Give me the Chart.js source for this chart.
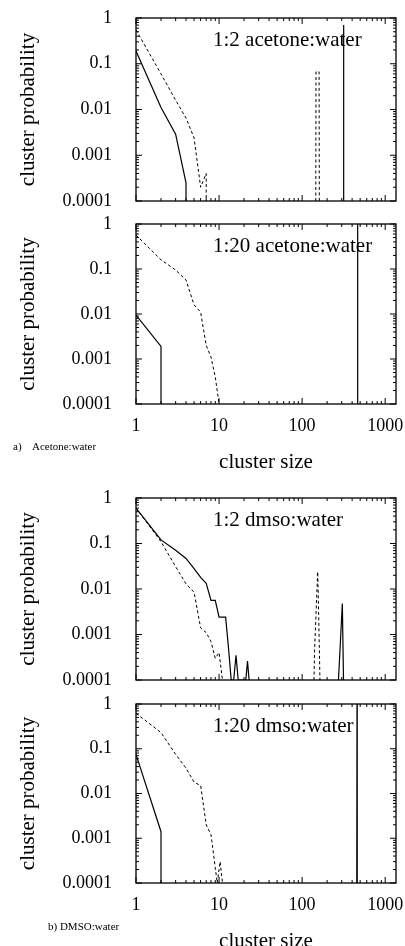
<!DOCTYPE html>
<html>
<head>
<meta charset="utf-8">
<script src="https://cdn.jsdelivr.net/npm/chart.js@4.4.0/dist/chart.umd.min.js"></script>
<style>
  body { margin: 0; background: #fff; width: 405px; height: 946px; overflow: hidden; position: relative; font-family: "Liberation Serif", serif; }
  .pane { position: absolute; left: 0; width: 405px; }
  .tag { position: absolute; font-size: 11px; white-space: pre; color: #000; line-height: 1; }
</style>
</head>
<body>
<div class="pane" style="top:0;height:215px"><canvas id="c1"></canvas></div>
<div class="pane" style="top:204px;height:271px"><canvas id="c2"></canvas></div>
<div class="pane" style="top:480px;height:214px"><canvas id="c3"></canvas></div>
<div class="pane" style="top:684px;height:270px"><canvas id="c4"></canvas></div>
<div class="tag" style="left:13px;top:441px">a)    Acetone:water</div>
<div class="tag" style="left:48px;top:921px">b) DMSO:water</div>

<script>
// tick labels
const xTickValues = [1, 10, 100, 1000];
const xTickLabels = ['1', '10', '100', '1000'];
const yTickValues = [0.0001, 0.001, 0.01, 0.1, 1];
const yTickLabels = ['0.0001', '0.001', '0.01', '0.1', '1'];

// 1:2 acetone:water
const ac2SolidSize = [1, 2, 3, 4, 4];
const ac2SolidProb = [0.19, 0.011, 0.0029, 0.00025, 0.0001];
const ac2SolidPeakSize = [312, 315, 318];
const ac2SolidPeakProb = [0.0001, 0.7, 0.0001];
const ac2DashSize = [1, 2, 3, 4, 5, 6, 7, 7];
const ac2DashProb = [0.55, 0.06, 0.016, 0.0065, 0.0024, 0.0002, 0.0004, 0.0001];
const ac2DashPeakSize = [146, 147, 160, 161];
const ac2DashPeakProb = [0.0001, 0.067, 0.067, 0.0001];

// 1:20 acetone:water
const ac20SolidSize = [1, 2, 2];
const ac20SolidProb = [0.0095, 0.0019, 0.0001];
const ac20SolidPeakSize = [462, 465, 468];
const ac20SolidPeakProb = [0.0001, 1, 0.0001];
const ac20DashSize = [1, 2, 3, 4, 5, 6, 7, 8, 9, 10];
const ac20DashProb = [0.57, 0.16, 0.095, 0.057, 0.016, 0.011, 0.002, 0.0011, 0.0004, 0.0001];

// 1:2 dmso:water
const dm2SolidSize = [1, 2, 3, 4, 5, 6, 7, 8, 9, 10, 12, 13, 14, 15, 16, 17, 21, 22, 23];
const dm2SolidProb = [0.6, 0.12, 0.071, 0.047, 0.028, 0.018, 0.0133, 0.0056, 0.0056, 0.0024, 0.0024, 0.0005, 0.0001, 0.0001, 0.00035, 0.0001, 0.0001, 0.00026, 0.0001];
const dm2SolidPeakSize = [274, 305, 315];
const dm2SolidPeakProb = [0.0001, 0.0048, 0.0001];
const dm2DashSize = [1, 2, 3, 4, 5, 6, 7, 8, 9, 10, 11];
const dm2DashProb = [0.6, 0.11, 0.031, 0.013, 0.0085, 0.0014, 0.0011, 0.0007, 0.0003, 0.0004, 0.0001];
const dm2DashPeakSize = [139, 141, 154, 158, 164];
const dm2DashPeakProb = [0.0001, 0.0004, 0.024, 0.003, 0.0001];

// 1:20 dmso:water
const dm20SolidSize = [1, 2, 2];
const dm20SolidProb = [0.075, 0.0014, 0.0001];
const dm20SolidPeakSize = [455, 458, 461];
const dm20SolidPeakProb = [0.0001, 1, 0.0001];
const dm20DashSize = [1, 2, 3, 4, 5, 6, 7, 8, 9, 9.5, 10.3, 11];
const dm20DashProb = [0.62, 0.23, 0.075, 0.037, 0.018, 0.015, 0.002, 0.0012, 0.00022, 0.0001, 0.0003, 0.0001];

const FONT = '"Liberation Serif", "Times New Roman", serif';

function series(xs, ys, dashed) {
  return {
    data: xs.map((x, i) => ({ x, y: ys[i] })),
    borderColor: '#000',
    borderWidth: dashed ? 1 : 1.2,
    borderDash: dashed ? [3, 2.5] : [],
    pointRadius: 0,
    tension: 0,
    fill: false
  };
}

// box, inward ticks on all four sides and the panel caption
const frame = {
  id: 'frame',
  beforeDatasetsDraw(chart, args, opts) {
    const { ctx, chartArea: a } = chart;
    ctx.save();
    ctx.font = '21px ' + FONT;
    ctx.fillStyle = '#000';
    ctx.textBaseline = 'alphabetic';
    ctx.fillText(opts.label, a.left + 77, a.top + 28);
    ctx.restore();
  },
  afterDraw(chart) {
    const { ctx, chartArea: a, scales: { x, y } } = chart;
    ctx.save();
    ctx.strokeStyle = '#000';
    ctx.lineWidth = 1;
    ctx.beginPath();
    for (let d = 1; d <= 1000; d *= 10) {
      for (let k = 1; k < 10; k++) {
        const v = d * k;
        if (v > x.max) break;
        const px = x.getPixelForValue(v);
        const len = k === 1 ? 6 : 3;
        ctx.moveTo(px, a.bottom); ctx.lineTo(px, a.bottom - len);
        ctx.moveTo(px, a.top); ctx.lineTo(px, a.top + len);
      }
    }
    for (let d = 0.0001; d <= 1; d *= 10) {
      for (let k = 1; k < 10; k++) {
        const v = d * k;
        if (v > y.max * 1.0001) break;
        const py = y.getPixelForValue(v);
        const len = k === 1 ? 6 : 3;
        ctx.moveTo(a.left, py); ctx.lineTo(a.left + len, py);
        ctx.moveTo(a.right, py); ctx.lineTo(a.right - len, py);
      }
    }
    ctx.stroke();
    ctx.lineWidth = 1.3;
    ctx.strokeRect(a.left, a.top, a.right - a.left, a.bottom - a.top);
    ctx.restore();
  }
};

function makePanel(id, label, datasets, showX, padTop) {
  return new Chart(document.getElementById(id), {
    type: 'line',
    data: { datasets },
    plugins: [frame],
    options: {
      responsive: true,
      maintainAspectRatio: false,
      animation: false,
      layout: { padding: { top: padTop, right: 9, left: 0, bottom: showX ? 0 : 14 } },
      plugins: {
        legend: { display: false },
        tooltip: { enabled: false },
        frame: { label }
      },
      scales: {
        x: {
          type: 'logarithmic',
          min: 1,
          max: 1350,
          display: showX,
          grid: { display: false },
          border: { display: false },
          afterBuildTicks: s => { s.ticks = xTickValues.map(v => ({ value: v })); },
          afterFit: s => { s.paddingLeft = 0; s.paddingRight = 0; if (showX) s.height = 71; },
          ticks: {
            padding: 3,
            color: '#000',
            autoSkip: false,
            maxRotation: 0,
            font: { family: FONT, size: 18 },
            callback: v => xTickLabels[xTickValues.indexOf(v)]
          },
          title: {
            display: showX,
            text: 'cluster size',
            color: '#000',
            font: { family: FONT, size: 21 },
            padding: { top: 0, bottom: 0 }
          }
        },
        y: {
          type: 'logarithmic',
          min: 0.0001,
          max: 1,
          grid: { display: false },
          border: { display: false },
          afterBuildTicks: s => { s.ticks = yTickValues.map(v => ({ value: v })); },
          afterFit: s => { s.width = 136; s.paddingTop = 0; s.paddingBottom = 0; },
          ticks: {
            padding: 16,
            color: '#000',
            autoSkip: false,
            font: { family: FONT, size: 18 },
            callback: v => yTickLabels[yTickValues.indexOf(v)]
          },
          title: {
            display: true,
            text: 'cluster probability',
            color: '#000',
            font: { family: FONT, size: 21 },
            padding: { top: 16, bottom: 0 }
          }
        }
      }
    }
  });
}

makePanel('c1', '1:2 acetone:water', [
  series(ac2SolidSize, ac2SolidProb, false),
  series(ac2SolidPeakSize, ac2SolidPeakProb, false),
  series(ac2DashSize, ac2DashProb, true),
  series(ac2DashPeakSize, ac2DashPeakProb, true)
], false, 18);

makePanel('c2', '1:20 acetone:water', [
  series(ac20SolidSize, ac20SolidProb, false),
  series(ac20SolidPeakSize, ac20SolidPeakProb, false),
  series(ac20DashSize, ac20DashProb, true)
], true, 20);

makePanel('c3', '1:2 dmso:water', [
  series(dm2SolidSize, dm2SolidProb, false),
  series(dm2SolidPeakSize, dm2SolidPeakProb, false),
  series(dm2DashSize, dm2DashProb, true),
  series(dm2DashPeakSize, dm2DashPeakProb, true)
], false, 18);

makePanel('c4', '1:20 dmso:water', [
  series(dm20SolidSize, dm20SolidProb, false),
  series(dm20SolidPeakSize, dm20SolidPeakProb, false),
  series(dm20DashSize, dm20DashProb, true)
], true, 20);
</script>
</body>
</html>
